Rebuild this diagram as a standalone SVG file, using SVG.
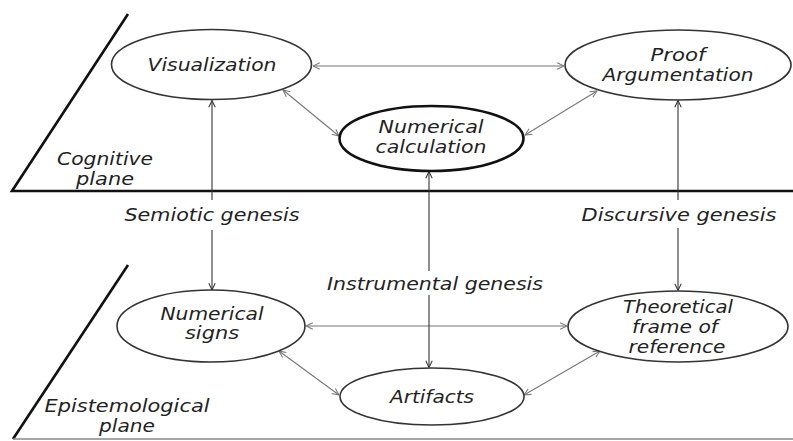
<svg xmlns="http://www.w3.org/2000/svg" width="793" height="441" viewBox="0 0 793 441">
<style>
  text { font-family: "DejaVu Sans", "Liberation Sans", sans-serif; font-style: italic; font-size: 18px; fill: #222; text-anchor: middle; }
  .node { fill: #fff; stroke: #333; stroke-width: 1.6; }
  .bold { stroke: #111; stroke-width: 2.6; }
  .plane { stroke: #111; stroke-width: 2.6; fill: none; }
  .plane2 { stroke: #888; stroke-width: 1.6; fill: none; }
  .c-gray { stroke: #777; stroke-width: 1.1; fill: none; }
  .c-dark { stroke: #333; stroke-width: 1.1; fill: none; }
</style>
<defs>
  <marker id="ag" viewBox="0 0 10 10" refX="9.5" refY="5" markerWidth="8" markerHeight="8" orient="auto-start-reverse" markerUnits="userSpaceOnUse">
    <path d="M1,1 L9.5,5 L1,9" fill="none" stroke="#777" stroke-width="1.3"/>
  </marker>
  <marker id="ad" viewBox="0 0 10 10" refX="9.5" refY="5" markerWidth="8" markerHeight="8" orient="auto-start-reverse" markerUnits="userSpaceOnUse">
    <path d="M1,1 L9.5,5 L1,9" fill="none" stroke="#333" stroke-width="1.3"/>
  </marker>
</defs>
<rect width="793" height="441" fill="#fff"/>

<g id="planes">
  <path class="plane" d="M128,14 L12,191 L793,191"/>
  <path class="plane" d="M128,265 L13,439"/>
  <path class="plane2" d="M13,439 L793,439"/>
  <text x="105" y="165" textLength="96" lengthAdjust="spacingAndGlyphs">Cognitive</text>
  <text x="105" y="185" textLength="58" lengthAdjust="spacingAndGlyphs">plane</text>
  <text x="127" y="412" textLength="165" lengthAdjust="spacingAndGlyphs">Epistemological</text>
  <text x="127" y="432" textLength="56" lengthAdjust="spacingAndGlyphs">plane</text>
</g>

<g id="connectors">
  <path class="c-gray" d="M313,66 L564,66" marker-start="url(#ag)" marker-end="url(#ag)"/>
  <path class="c-gray" d="M283,90 L339,136" marker-start="url(#ag)" marker-end="url(#ag)"/>
  <path class="c-gray" d="M597,91 L525,135" marker-start="url(#ag)" marker-end="url(#ag)"/>
  <path class="c-gray" d="M306,326 L567,326" marker-start="url(#ag)" marker-end="url(#ag)"/>
  <path class="c-gray" d="M279,351 L339,395" marker-start="url(#ag)" marker-end="url(#ag)"/>
  <path class="c-gray" d="M600,351 L524,395" marker-start="url(#ag)" marker-end="url(#ag)"/>
  <path class="c-dark" d="M212,200 L212,100.5" marker-end="url(#ad)"/>
  <path class="c-dark" d="M212,230 L212,290" marker-end="url(#ad)"/>
  <path class="c-dark" d="M429,271 L429,171.5" marker-end="url(#ad)"/>
  <path class="c-dark" d="M429,295 L429,367.5" marker-end="url(#ad)"/>
  <path class="c-dark" d="M678,200 L678,100.5" marker-end="url(#ad)"/>
  <path class="c-dark" d="M678,228 L678,290.5" marker-end="url(#ad)"/>
  <text x="212" y="221" textLength="175" lengthAdjust="spacingAndGlyphs">Semiotic genesis</text>
  <text x="435" y="290" textLength="216" lengthAdjust="spacingAndGlyphs">Instrumental genesis</text>
  <text x="679" y="221" textLength="195" lengthAdjust="spacingAndGlyphs">Discursive genesis</text>
</g>

<g id="visualization">
  <ellipse class="node" cx="211.5" cy="64.5" rx="100" ry="35"/>
  <text x="212" y="71" textLength="129" lengthAdjust="spacingAndGlyphs">Visualization</text>
</g>

<g id="proof">
  <ellipse class="node" cx="678" cy="65" rx="113" ry="35"/>
  <text x="678" y="61" textLength="55" lengthAdjust="spacingAndGlyphs">Proof</text>
  <text x="678" y="81" textLength="151" lengthAdjust="spacingAndGlyphs">Argumentation</text>
</g>

<g id="numerical-calculation">
  <ellipse class="node bold" cx="431.5" cy="138.5" rx="92" ry="32.5"/>
  <text x="431" y="133" textLength="105" lengthAdjust="spacingAndGlyphs">Numerical</text>
  <text x="431" y="153" textLength="111" lengthAdjust="spacingAndGlyphs">calculation</text>
</g>

<g id="numerical-signs">
  <ellipse class="node" cx="211" cy="326" rx="94" ry="36"/>
  <text x="212" y="320" textLength="103" lengthAdjust="spacingAndGlyphs">Numerical</text>
  <text x="212" y="339" textLength="54" lengthAdjust="spacingAndGlyphs">signs</text>
</g>

<g id="theoretical-frame">
  <ellipse class="node" cx="678" cy="326.5" rx="110" ry="35.5"/>
  <text x="678" y="313" textLength="110" lengthAdjust="spacingAndGlyphs">Theoretical</text>
  <text x="675" y="333" textLength="86" lengthAdjust="spacingAndGlyphs">frame of</text>
  <text x="677" y="353" textLength="97" lengthAdjust="spacingAndGlyphs">reference</text>
</g>

<g id="artifacts">
  <ellipse class="node" cx="432" cy="396.5" rx="92" ry="28.5"/>
  <text x="432" y="403" textLength="84" lengthAdjust="spacingAndGlyphs">Artifacts</text>
</g>
</svg>
